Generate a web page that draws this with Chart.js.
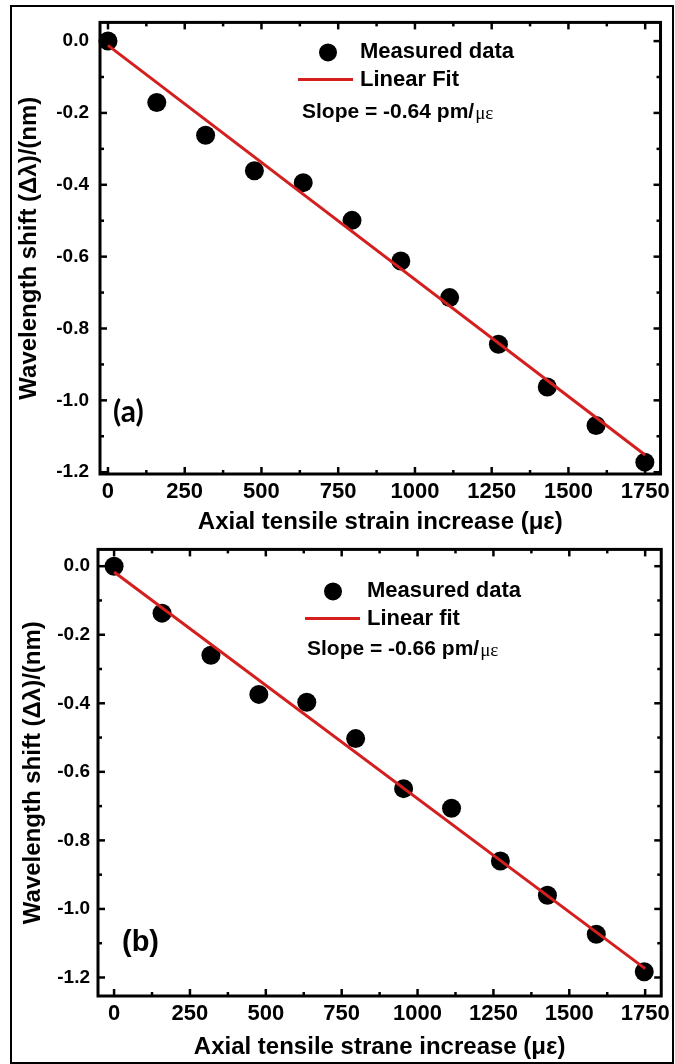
<!DOCTYPE html>
<html>
<head>
<meta charset="utf-8">
<script src="https://cdn.jsdelivr.net/npm/chart.js@4.4.1/dist/chart.umd.min.js"></script>
<style>
  html, body { margin: 0; padding: 0; background: #fff; }
  #page { position: relative; width: 675px; height: 1064px; overflow: hidden; }
  #frame { position: absolute; left: 10px; top: 5px; width: 660px; height: 1055px; border: 2px solid #000; }
  canvas { position: absolute; left: 0; }
  #chartA { top: 0; }
  #chartB { top: 530px; }
</style>
</head>
<body>
<div id="page">
  <div id="frame"></div>
  <canvas id="chartA" width="675" height="540"></canvas>
  <canvas id="chartB" width="675" height="534"></canvas>
</div>
<script>
// panel (a) data
const strainA = [0, 159, 318, 477, 636, 795, 954, 1113, 1272, 1431, 1590, 1749];
const shiftA = [0.0, -0.171, -0.262, -0.361, -0.394, -0.499, -0.612, -0.714, -0.844, -0.963, -1.070, -1.172];
const fitXA = [0, 1750];
const fitYA = [-0.012, -1.152];

// panel (b) data
const strainB = [0, 158, 319, 477, 635, 796, 954, 1112, 1273, 1428, 1589, 1747];
const shiftB = [0.0, -0.137, -0.260, -0.374, -0.397, -0.503, -0.649, -0.706, -0.860, -0.960, -1.074, -1.183];
const fitXB = [0, 1750];
const fitYB = [-0.017, -1.174];

// axes
const xTickVals = [0, 250, 500, 750, 1000, 1250, 1500, 1750];
const xMinorVals = [125, 375, 625, 875, 1125, 1375, 1625];
const yTickVals = [0.0, -0.2, -0.4, -0.6, -0.8, -1.0, -1.2];
const yMinorVals = [-0.1, -0.3, -0.5, -0.7, -0.9, -1.1];
const xRangeA = [-26, 1800];
const yRangeA = [-1.205, 0.052];
const xRangeB = [-53, 1803];
const yRangeB = [-1.254, 0.049];

const FONT = '"Liberation Sans", Arial, sans-serif';
const RED = '#d41f1f';

// plot frame + inward ticks on all four sides
const frameTicks = {
    id: 'frameTicks',
    afterDraw(chart) {
        const {ctx, chartArea: {left, right, top, bottom}, scales: {x, y}} = chart;
        ctx.save();
        ctx.strokeStyle = '#000';
        ctx.lineWidth = 3;
        ctx.strokeRect(left, top, right - left, bottom - top);
        ctx.lineWidth = 2.5;
        const seg = (x0, y0, x1, y1) => { ctx.beginPath(); ctx.moveTo(x0, y0); ctx.lineTo(x1, y1); ctx.stroke(); };
        xTickVals.forEach(v => { const p = x.getPixelForValue(v); seg(p, bottom, p, bottom - 7); seg(p, top, p, top + 7); });
        xMinorVals.forEach(v => { const p = x.getPixelForValue(v); seg(p, bottom, p, bottom - 4); seg(p, top, p, top + 4); });
        yTickVals.forEach(v => { const p = y.getPixelForValue(v); seg(left, p, left + 7, p); seg(right, p, right - 7, p); });
        yMinorVals.forEach(v => { const p = y.getPixelForValue(v); seg(left, p, left + 4, p); seg(right, p, right - 4, p); });
        ctx.restore();
    }
};

// legend block, slope text and panel tag
const panelNotes = {
    id: 'panelNotes',
    afterDraw(chart, args, o) {
        const {ctx, chartArea: {left, top, bottom}} = chart;
        ctx.save();
        ctx.fillStyle = '#000';
        ctx.textBaseline = 'middle';
        ctx.beginPath();
        ctx.arc(left + o.dotX, top + o.row1, 9, 0, Math.PI * 2);
        ctx.fill();
        ctx.font = 'bold 22px ' + FONT;
        ctx.fillText('Measured data', left + o.textX, top + o.row1);
        ctx.strokeStyle = RED;
        ctx.lineWidth = 3;
        ctx.beginPath();
        ctx.moveTo(left + o.lineX0, top + o.row2);
        ctx.lineTo(left + o.lineX1, top + o.row2);
        ctx.stroke();
        ctx.fillText(o.fitLabel, left + o.textX, top + o.row2 + 1);
        const s = 'Slope = ' + o.slope + ' pm/';
        ctx.font = 'bold 21px ' + FONT;
        ctx.fillText(s, left + o.slopeX, top + o.row3);
        const w = ctx.measureText(s).width;
        ctx.font = '19px "Liberation Serif", serif';
        ctx.fillText('\u03bc\u03b5', left + o.slopeX + w + 1, top + o.row3 + 2);
        ctx.font = o.tagFont;
        ctx.fillText(o.tag, left + o.tagX, bottom - o.tagUp);
        ctx.restore();
    }
};

function pts(xs, ys) {
    return xs.map((v, i) => ({x: v, y: ys[i]}));
}

function buildChart(id, o) {
    return new Chart(document.getElementById(id), {
        type: 'scatter',
        data: {
            datasets: [{
                label: o.notes.fitLabel,
                data: pts(o.fitX, o.fitY),
                showLine: true,
                borderColor: RED,
                borderWidth: 3,
                pointRadius: 0,
                order: 0
            }, {
                label: 'Measured data',
                data: pts(o.xs, o.ys),
                backgroundColor: '#000',
                borderColor: '#000',
                borderWidth: 0,
                pointRadius: 9.5,
                order: 1
            }]
        },
        options: {
            responsive: false,
            animation: false,
            events: [],
            clip: false,
            layout: {padding: {left: 0, right: 13, top: o.padTop, bottom: 0}},
            plugins: {
                legend: {display: false},
                tooltip: {enabled: false},
                panelNotes: o.notes
            },
            scales: {
                x: {
                    type: 'linear',
                    min: o.xRange[0],
                    max: o.xRange[1],
                    grid: {display: false, drawTicks: false},
                    border: {display: false},
                    afterBuildTicks: s => { s.ticks = xTickVals.map(v => ({value: v})); },
                    afterFit: s => { s.height = o.xHeight; },
                    ticks: {
                        padding: o.xTickPad,
                        color: '#000',
                        maxRotation: 0,
                        autoSkip: false,
                        font: {family: FONT, size: 22, weight: 'bold'},
                        callback: v => String(v)
                    },
                    title: {
                        display: true,
                        text: o.xTitle,
                        color: '#000',
                        font: {family: FONT, size: 24, weight: 'bold'},
                        padding: {top: 0, bottom: o.xTitlePad}
                    }
                },
                y: {
                    type: 'linear',
                    min: o.yRange[0],
                    max: o.yRange[1],
                    grid: {display: false, drawTicks: false},
                    border: {display: false},
                    afterBuildTicks: s => { s.ticks = yTickVals.map(v => ({value: v})); },
                    afterFit: s => { s.width = o.yWidth; },
                    ticks: {
                        padding: o.yTickPad,
                        color: '#000',
                        autoSkip: false,
                        font: {family: FONT, size: 19, weight: 'bold'},
                        callback: v => v.toFixed(1)
                    },
                    title: {
                        display: true,
                        text: 'Wavelength shift (\u0394\u03bb)/(nm)',
                        color: '#000',
                        font: {family: FONT, size: 24, weight: 'bold'},
                        padding: {top: o.yTitlePad, bottom: 0}
                    }
                }
            }
        },
        plugins: [frameTicks, panelNotes]
    });
}

buildChart('chartA', {
    xs: strainA, ys: shiftA, fitX: fitXA, fitY: fitYA,
    xRange: xRangeA, yRange: yRangeA,
    padTop: 18, xHeight: 66, yWidth: 100,
    xTickPad: 5, yTickPad: 11, xTitlePad: 3, yTitlePad: 15,
    xTitle: 'Axial tensile strain increase (\u03bc\u03b5)',
    notes: {
        dotX: 228, textX: 260, row1: 30, lineX0: 198, lineX1: 253, row2: 57,
        slopeX: 202, row3: 90, fitLabel: 'Linear Fit', slope: '-0.64',
        tag: '(a)', tagFont: 'bold 30px Lato, sans-serif', tagX: 13, tagUp: 62
    }
});

buildChart('chartB', {
    xs: strainB, ys: shiftB, fitX: fitXB, fitY: fitYB,
    xRange: xRangeB, yRange: yRangeB,
    padTop: 10, xHeight: 68, yWidth: 98,
    xTickPad: 5, yTickPad: 8, xTitlePad: 2, yTitlePad: 19,
    xTitle: 'Axial tensile strane increase (\u03bc\u03b5)',
    notes: {
        dotX: 235, textX: 269, row1: 42, lineX0: 207, lineX1: 262, row2: 69,
        slopeX: 209, row3: 100, fitLabel: 'Linear fit', slope: '-0.66',
        tag: '(b)', tagFont: 'bold 29px ' + FONT, tagX: 24, tagUp: 53
    }
});
</script>
</body>
</html>
